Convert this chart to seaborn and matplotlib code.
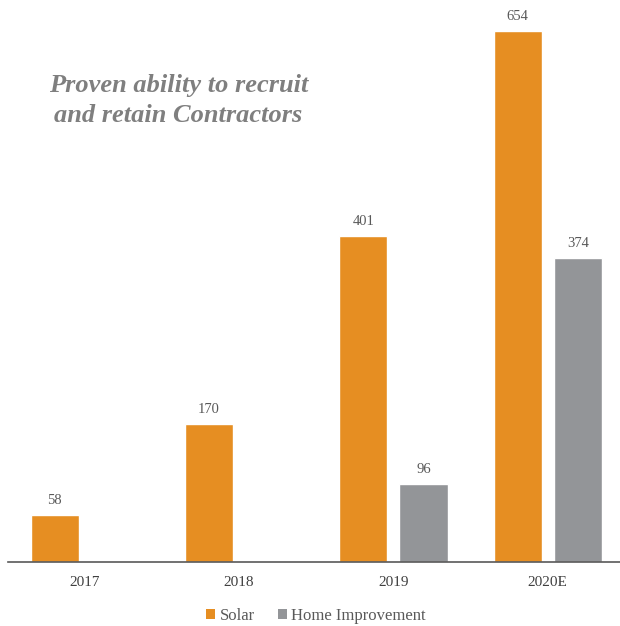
import matplotlib
matplotlib.use("Agg")
import matplotlib.pyplot as plt
import seaborn as sns
import pandas as pd
from matplotlib.patches import Patch

years = ["2017", "2018", "2019", "2020E"]
solar = [58, 170, 401, 654]
home_improvement = [None, None, 96, 374]
series = ["Solar", "Home Improvement"]
colors = {"Solar": "#E68E22", "Home Improvement": "#939598"}

rows = []
for y, s, h in zip(years, solar, home_improvement):
    rows.append({"Year": y, "Series": "Solar", "Value": s})
    rows.append({"Year": y, "Series": "Home Improvement", "Value": h})
df = pd.DataFrame(rows)

sns.set_theme(style="white")
plt.rcParams["font.family"] = ["Liberation Serif", "DejaVu Serif"]

fig = plt.figure(figsize=(6.2, 6.26), dpi=100)
ax = fig.add_axes([7.5 / 620, 64 / 626, 617.5 / 620, 562 / 626])

sns.barplot(data=df, x="Year", y="Value", hue="Series", hue_order=series,
            palette=colors, order=years, width=0.78, gap=0.2, ax=ax,
            legend=False, saturation=1)

ax.set_ylim(0, 692)
ax.set_xlim(-0.5, 3.5)
ax.set_xlabel("")
ax.set_ylabel("")
ax.set_yticks([])
for side in ["left", "right", "top"]:
    ax.spines[side].set_visible(False)
ax.spines["bottom"].set_color("#595959")
ax.spines["bottom"].set_linewidth(1.2)
ax.tick_params(axis="x", length=0, pad=10, labelsize=11, labelcolor="#404040")

for cont in ax.containers:
    labels = []
    for v in cont.datavalues:
        labels.append("" if pd.isna(v) else f"{int(v)}")
    ax.bar_label(cont, labels=labels, padding=6, fontsize=10.5, color="#595959")

fig.text(0.288, 0.839, "Proven ability to recruit\nand retain Contractors",
         ha="center", va="center", fontsize=19, fontstyle="italic",
         fontweight="bold", color="#7F7F7F", linespacing=1.4)

handles = [Patch(facecolor=colors[s], edgecolor="none", label=s) for s in series]
fig.legend(handles=handles, loc="center", bbox_to_anchor=(0.51, 1 - 616 / 626),
           ncol=2, frameon=False, fontsize=12, handlelength=0.55, handleheight=0.55,
           handletextpad=0.25, columnspacing=1.4, labelcolor="#595959")

fig.savefig("out.png", dpi=100)
